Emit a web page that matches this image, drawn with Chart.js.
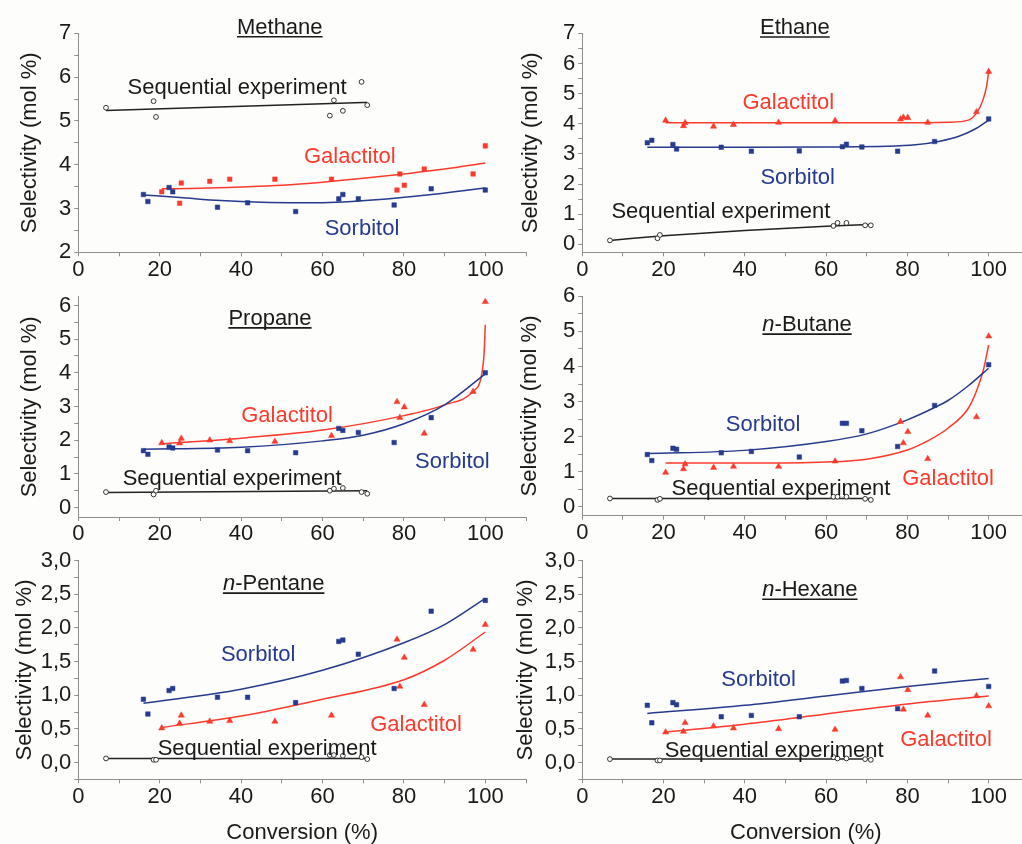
<!DOCTYPE html>
<html><head><meta charset="utf-8">
<script src="https://cdn.jsdelivr.net/npm/chart.js@4.4.1/dist/chart.umd.min.js"></script>
<style>
html,body{margin:0;padding:0;background:#fdfdfc;}
body{width:1022px;height:844px;overflow:hidden;position:relative;}
canvas{position:absolute;}
</style></head><body>
<canvas id="c1"></canvas><canvas id="c2"></canvas><canvas id="c3"></canvas>
<canvas id="c4"></canvas><canvas id="c5"></canvas><canvas id="c6"></canvas>
<script>
// ---------- DATA ----------
const sorbitolConv   = [16.0, 17.1, 22.3, 23.2, 34.2, 41.6, 53.4, 64.0, 65.0, 68.8, 77.6, 86.7, 100];
const galactitolConv = [20.5, 24.9, 25.3, 32.3, 37.2, 48.3, 62.2, 78.3, 79.0, 80.1, 85.0, 97.0, 100];
const sequentialConv = [6.8, 18.5, 19.1, 61.8, 62.8, 65.0, 69.6, 71.0];

const methaneSorbitol   = [3.32, 3.16, 3.48, 3.38, 3.03, 3.13, 2.93, 3.22, 3.32, 3.22, 3.08, 3.45, 3.42];
const methaneGalactitol = [3.38, 3.12, 3.58, 3.62, 3.67, 3.67, 3.67, 3.42, 3.79, 3.53, 3.90, 3.79, 4.43];
const methaneSequential = [5.30, 5.45, 5.09, 5.12, 5.47, 5.23, 5.89, 5.36];

const ethaneSorbitol   = [3.37, 3.45, 3.31, 3.16, 3.22, 3.09, 3.10, 3.24, 3.32, 3.23, 3.09, 3.41, 4.16];
const ethaneGalactitol = [4.11, 3.93, 4.03, 3.91, 3.97, 4.04, 4.10, 4.15, 4.21, 4.20, 4.04, 4.39, 5.73];
const ethaneSequential = [0.13, 0.20, 0.31, 0.61, 0.71, 0.71, 0.63, 0.63];

const propaneSorbitol   = [1.69, 1.58, 1.80, 1.77, 1.71, 1.69, 1.63, 2.35, 2.29, 2.23, 1.93, 2.67, 4.00];
const propaneGalactitol = [1.92, 1.91, 2.05, 2.00, 1.98, 1.96, 2.13, 3.14, 2.67, 2.98, 2.20, 3.44, 6.11];
const propaneSequential = [0.46, 0.39, 0.50, 0.50, 0.56, 0.58, 0.46, 0.41];

const butaneSorbitol   = [1.49, 1.32, 1.67, 1.64, 1.54, 1.58, 1.42, 2.38, 2.38, 2.17, 1.72, 2.89, 4.05];
const butaneGalactitol = [0.98, 1.08, 1.22, 1.12, 1.15, 1.15, 1.30, 2.43, 1.82, 2.14, 1.37, 2.56, 4.86];
const butaneSequential = [0.24, 0.20, 0.23, 0.29, 0.29, 0.29, 0.23, 0.20];

const pentaneSorbitol   = [0.94, 0.72, 1.07, 1.10, 0.97, 0.97, 0.89, 1.80, 1.82, 1.61, 1.10, 2.25, 2.41];
const pentaneGalactitol = [0.51, 0.58, 0.70, 0.61, 0.62, 0.61, 0.70, 1.83, 1.13, 1.56, 0.86, 1.68, 2.05];
const pentaneSequential = [0.06, 0.04, 0.04, 0.11, 0.11, 0.10, 0.08, 0.05];

const hexaneSorbitol   = [0.85, 0.59, 0.89, 0.86, 0.68, 0.70, 0.68, 1.21, 1.22, 1.10, 0.80, 1.36, 1.13];
const hexaneGalactitol = [0.45, 0.46, 0.59, 0.54, 0.51, 0.50, 0.49, 1.27, 0.79, 1.08, 0.70, 0.99, 0.84];
const hexaneSequential = [0.05, 0.03, 0.03, 0.08, 0.06, 0.06, 0.05, 0.04];

// fitted curves
const methaneSorbitolFitX   = [16.0, 25, 35, 45, 55, 65, 75, 85, 95, 100];
const methaneSorbitolFitY   = [3.31, 3.25, 3.18, 3.14, 3.13, 3.15, 3.21, 3.30, 3.41, 3.47];
const methaneGalactitolFitX = [20.5, 30, 40, 50, 60, 70, 80, 90, 100];
const methaneGalactitolFitY = [3.45, 3.46, 3.49, 3.53, 3.60, 3.69, 3.79, 3.90, 4.04];
const methaneSequentialFitX = [6.8, 71.0];
const methaneSequentialFitY = [5.24, 5.42];

const ethaneSorbitolFitX   = [16.0, 40, 60, 75, 82, 88, 93, 97, 100];
const ethaneSorbitolFitY   = [3.22, 3.22, 3.23, 3.25, 3.30, 3.42, 3.60, 3.85, 4.12];
const ethaneGalactitolFitX = [20.5, 40, 60, 80, 90, 95, 97, 98.5, 99.5, 100];
const ethaneGalactitolFitY = [4.03, 4.03, 4.03, 4.03, 4.05, 4.12, 4.35, 4.75, 5.25, 5.73];
const ethaneSequentialFitX = [6.8, 20, 40, 60, 71.0];
const ethaneSequentialFitY = [0.13, 0.28, 0.46, 0.60, 0.66];

const propaneSorbitolFitX   = [16.0, 40, 60, 70, 80, 90, 100];
const propaneSorbitolFitY   = [1.73, 1.79, 1.98, 2.15, 2.49, 3.05, 3.97];
const propaneGalactitolFitX = [20.5, 40, 60, 80, 90, 97, 99, 99.7, 100];
const propaneGalactitolFitY = [1.89, 2.06, 2.30, 2.73, 3.05, 3.45, 3.89, 4.58, 5.43];
const propaneSequentialFitX = [6.8, 71.0];
const propaneSequentialFitY = [0.45, 0.50];

const butaneSorbitolFitX   = [16.0, 40, 60, 70, 80, 86.7, 90, 95, 100];
const butaneSorbitolFitY   = [1.52, 1.61, 1.86, 2.08, 2.48, 2.83, 3.03, 3.45, 3.95];
const butaneGalactitolFitX = [20.5, 40, 60, 70, 80, 85, 90, 95, 97, 98.7, 100];
const butaneGalactitolFitY = [1.25, 1.25, 1.28, 1.36, 1.62, 1.88, 2.24, 2.81, 3.30, 3.90, 4.61];
const butaneSequentialFitX = [6.8, 71.0];
const butaneSequentialFitY = [0.24, 0.24];

const pentaneSorbitolFitX   = [16.0, 40, 60, 80, 90, 100];
const pentaneSorbitolFitY   = [0.88, 1.09, 1.37, 1.78, 2.05, 2.44];
const pentaneGalactitolFitX = [20.5, 40, 60, 80, 90, 100];
const pentaneGalactitolFitY = [0.52, 0.69, 0.94, 1.23, 1.52, 1.94];
const pentaneSequentialFitX = [6.8, 71.0];
const pentaneSequentialFitY = [0.06, 0.06];

const hexaneSorbitolFitX   = [16.0, 40, 60, 80, 100];
const hexaneSorbitolFitY   = [0.73, 0.85, 0.99, 1.13, 1.25];
const hexaneGalactitolFitX = [20.5, 40, 60, 80, 100];
const hexaneGalactitolFitY = [0.45, 0.57, 0.72, 0.87, 0.99];
const hexaneSequentialFitX = [6.8, 71.0];
const hexaneSequentialFitY = [0.05, 0.05];

const panelTitles = ['Methane', 'Ethane', 'Propane', 'n-Butane', 'n-Pentane', 'n-Hexane'];
const seriesNames = ['Sorbitol', 'Galactitol', 'Sequential experiment'];
const xTickLabels = ['0', '20', '40', '60', '80', '100'];
const yAxisTitle = 'Selectivity (mol %)';
const xAxisTitle = 'Conversion (%)';

// ---------- STYLE ----------
const RED = '#fb3a2c', BLUE = '#263a8e', BLACK = '#1a1a1a', AXIS = '#8f8f8f';
const FONT = '"Liberation Sans", Arial, sans-serif';
Chart.defaults.font.family = FONT;

const textMarks = {
  id: 'textMarks',
  afterDraw(chart, args, opts) {
    const ctx = chart.ctx, xs = chart.scales.x, ys = chart.scales.y;
    ctx.save();
    (opts.items || []).forEach(it => {
      const size = 22;
      const px = xs.getPixelForValue(it.x), py = ys.getPixelForValue(it.y);
      const base = py + size * 0.36;
      const parts = it.italicPrefix ? [{t: it.text.slice(0, 1), i: true}, {t: it.text.slice(1), i: false}] : [{t: it.text, i: false}];
      let total = 0;
      parts.forEach(p => { ctx.font = (p.i ? 'italic ' : '') + size + 'px ' + FONT; p.w = ctx.measureText(p.t).width; total += p.w; });
      let x0 = px - total / 2;
      ctx.fillStyle = it.color; ctx.textBaseline = 'alphabetic'; ctx.textAlign = 'left';
      let cx = x0;
      parts.forEach(p => { ctx.font = (p.i ? 'italic ' : '') + size + 'px ' + FONT; ctx.fillText(p.t, cx, base); cx += p.w; });
      if (it.underline) {
        ctx.strokeStyle = it.color; ctx.lineWidth = 1.6;
        ctx.beginPath(); ctx.moveTo(x0, base + 3); ctx.lineTo(x0 + total, base + 3); ctx.stroke();
      }
    });
    ctx.restore();
  }
};

function pts(xs, ys) { return xs.map((x, i) => ({x: x, y: ys[i]})); }
function markerSet(label, xs, ys, style, color, fill, r) {
  return {type: 'scatter', label: label, data: pts(xs, ys), pointStyle: style, pointRadius: r, pointHoverRadius: r,
    pointBackgroundColor: fill, pointBorderColor: color, pointBorderWidth: style === 'circle' ? 1 : 0.5, showLine: false, order: 1};
}
function fitSet(label, xs, ys, color) {
  return {type: 'line', label: label + ' fit', data: pts(xs, ys), borderColor: color, borderWidth: 1.5, pointRadius: 0,
    pointHoverRadius: 0, cubicInterpolationMode: 'monotone', fill: false, order: 2};
}

const panels = [
  {id: 'c1', left: 0, top: 0, w: 530, h: 290, pad: {left: 0, top: 33.3, right: 4, bottom: 0}, yW: 78.3, xH: 37.7,
   ymin: 2, ymax: 7, ystep: 0.5, comma: false, yTitlePad: 17.1, xTitle: false, galStyle: 'rect',
   s: methaneSorbitol, g: methaneGalactitol, q: methaneSequential,
   sf: [methaneSorbitolFitX, methaneSorbitolFitY], gf: [methaneGalactitolFitX, methaneGalactitolFitY], qf: [methaneSequentialFitX, methaneSequentialFitY],
   labels: [{text: panelTitles[0], x: 49.5, y: 7.17, color: BLACK, underline: true},
            {text: seriesNames[2], x: 39.0, y: 5.80, color: BLACK},
            {text: seriesNames[1], x: 66.7, y: 4.22, color: RED},
            {text: seriesNames[0], x: 69.7, y: 2.58, color: BLUE}]},
  {id: 'c2', left: 500, top: 0, w: 540, h: 290, pad: {left: 0, top: 33.3, right: 10.7, bottom: 0}, yW: 82.3, xH: 37.7,
   ymin: -0.265, ymax: 7, ystep: 0.5, comma: false, yTitlePad: 17.5, xTitle: false, galStyle: 'triangle',
   s: ethaneSorbitol, g: ethaneGalactitol, q: ethaneSequential,
   sf: [ethaneSorbitolFitX, ethaneSorbitolFitY], gf: [ethaneGalactitolFitX, ethaneGalactitolFitY], qf: [ethaneSequentialFitX, ethaneSequentialFitY],
   labels: [{text: panelTitles[1], x: 52.3, y: 7.24, color: BLACK, underline: true},
            {text: seriesNames[1], x: 50.7, y: 4.75, color: RED},
            {text: seriesNames[0], x: 53.0, y: 2.27, color: BLUE},
            {text: seriesNames[2], x: 34.1, y: 1.14, color: BLACK}]},
  {id: 'c3', left: 0, top: 280, w: 530, h: 270, pad: {left: 0, top: 16.7, right: 4, bottom: 0}, yW: 78.3, xH: 33,
   ymin: -0.28, ymax: 6.26, ystep: 0.5, comma: false, yTitlePad: 16.8, xTitle: false, galStyle: 'triangle',
   s: propaneSorbitol, g: propaneGalactitol, q: propaneSequential,
   sf: [propaneSorbitolFitX, propaneSorbitolFitY], gf: [propaneGalactitolFitX, propaneGalactitolFitY], qf: [propaneSequentialFitX, propaneSequentialFitY],
   labels: [{text: panelTitles[2], x: 47.1, y: 5.66, color: BLACK, underline: true},
            {text: seriesNames[1], x: 51.3, y: 2.78, color: RED},
            {text: seriesNames[0], x: 91.9, y: 1.42, color: BLUE},
            {text: seriesNames[2], x: 37.8, y: 0.91, color: BLACK}]},
  {id: 'c4', left: 500, top: 280, w: 540, h: 270, pad: {left: 0, top: 16, right: 10.7, bottom: 0}, yW: 82.3, xH: 34.3,
   ymin: -0.25, ymax: 6, ystep: 0.5, comma: false, yTitlePad: 16.8, xTitle: false, galStyle: 'triangle',
   s: butaneSorbitol, g: butaneGalactitol, q: butaneSequential,
   sf: [butaneSorbitolFitX, butaneSorbitolFitY], gf: [butaneGalactitolFitX, butaneGalactitolFitY], qf: [butaneSequentialFitX, butaneSequentialFitY],
   labels: [{text: panelTitles[3], x: 55.3, y: 5.23, color: BLACK, underline: true, italicPrefix: true},
            {text: seriesNames[0], x: 44.5, y: 2.38, color: BLUE},
            {text: seriesNames[1], x: 90.0, y: 0.85, color: RED},
            {text: seriesNames[2], x: 48.9, y: 0.56, color: BLACK}]},
  {id: 'c5', left: 0, top: 540, w: 530, h: 306, pad: {left: 0, top: 20.7, right: 4, bottom: 0}, yW: 78.3, xH: 66.7,
   ymin: -0.25, ymax: 3, ystep: 0.25, comma: true, yTitlePad: 11.8, xTitle: true, galStyle: 'triangle',
   s: pentaneSorbitol, g: pentaneGalactitol, q: pentaneSequential,
   sf: [pentaneSorbitolFitX, pentaneSorbitolFitY], gf: [pentaneGalactitolFitX, pentaneGalactitolFitY], qf: [pentaneSequentialFitX, pentaneSequentialFitY],
   labels: [{text: panelTitles[4], x: 48.0, y: 2.68, color: BLACK, underline: true, italicPrefix: true},
            {text: seriesNames[0], x: 44.2, y: 1.63, color: BLUE},
            {text: seriesNames[1], x: 83.0, y: 0.585, color: RED},
            {text: seriesNames[2], x: 46.4, y: 0.23, color: BLACK}]},
  {id: 'c6', left: 500, top: 540, w: 540, h: 306, pad: {left: 0, top: 20.7, right: 10.7, bottom: 0}, yW: 82.3, xH: 66.7,
   ymin: -0.25, ymax: 3, ystep: 0.25, comma: true, yTitlePad: 12.8, xTitle: true, galStyle: 'triangle',
   s: hexaneSorbitol, g: hexaneGalactitol, q: hexaneSequential,
   sf: [hexaneSorbitolFitX, hexaneSorbitolFitY], gf: [hexaneGalactitolFitX, hexaneGalactitolFitY], qf: [hexaneSequentialFitX, hexaneSequentialFitY],
   labels: [{text: panelTitles[5], x: 56.0, y: 2.59, color: BLACK, underline: true, italicPrefix: true},
            {text: seriesNames[0], x: 43.4, y: 1.25, color: BLUE},
            {text: seriesNames[1], x: 89.5, y: 0.36, color: RED},
            {text: seriesNames[2], x: 47.2, y: 0.20, color: BLACK}]}
];

panels.forEach(p => {
  const cv = document.getElementById(p.id);
  cv.width = p.w; cv.height = p.h;
  cv.style.left = p.left + 'px'; cv.style.top = p.top + 'px';
  cv.style.width = p.w + 'px'; cv.style.height = p.h + 'px';
  const galR = p.galStyle === 'rect' ? 3.2 : 3.6;
  new Chart(cv, {
    type: 'scatter',
    data: {datasets: [
      markerSet(seriesNames[0], sorbitolConv, p.s, 'rect', BLUE, BLUE, 3.2),
      markerSet(seriesNames[1], galactitolConv, p.g, p.galStyle, RED, RED, galR),
      markerSet(seriesNames[2], sequentialConv, p.q, 'circle', '#333333', '#fdfdfc', 2.4),
      fitSet(seriesNames[0], p.sf[0], p.sf[1], BLUE),
      fitSet(seriesNames[1], p.gf[0], p.gf[1], RED),
      fitSet(seriesNames[2], p.qf[0], p.qf[1], '#222222')
    ]},
    options: {
      responsive: false, animation: false, devicePixelRatio: 1, events: [],
      layout: {padding: p.pad, autoPadding: false},
      plugins: {legend: {display: false}, tooltip: {enabled: false}, title: {display: false},
                textMarks: {items: p.labels}},
      scales: {
        x: {type: 'linear', min: 0, max: 110,
            afterFit: s => { s.height = p.xH; },
            border: {display: true, color: AXIS, width: 1},
            grid: {display: true, drawOnChartArea: false, drawTicks: true, tickLength: 4, tickColor: AXIS},
            ticks: {stepSize: 10, autoSkip: false, maxRotation: 0, padding: 0, color: BLACK, font: {size: 22},
                    callback: v => (v % 20 === 0 && v <= 100) ? xTickLabels[v / 20] : ''},
            title: {display: p.xTitle, text: xAxisTitle, color: BLACK, font: {size: 22, lineHeight: 1.2}, padding: {top: 0, bottom: 0}}},
        y: {type: 'linear', min: p.ymin, max: p.ymax,
            afterFit: s => { s.width = p.yW; },
            border: {display: true, color: AXIS, width: 1},
            grid: {display: true, drawOnChartArea: false, drawTicks: true, tickLength: 4, tickColor: AXIS},
            ticks: {stepSize: p.ystep, includeBounds: false, autoSkip: false, padding: 3, color: BLACK, font: {size: 22},
                    callback: v => {
                      if (p.comma) { return Math.abs(v * 2 - Math.round(v * 2)) < 1e-6 ? v.toFixed(1).replace('.', ',') : ''; }
                      return Number.isInteger(v) ? String(v) : '';
                    }},
            title: {display: true, text: yAxisTitle, color: BLACK, font: {size: 22, lineHeight: 1.2}, padding: {top: p.yTitlePad, bottom: 0}}}
      }
    },
    plugins: [textMarks]
  });
});
</script>
</body></html>
